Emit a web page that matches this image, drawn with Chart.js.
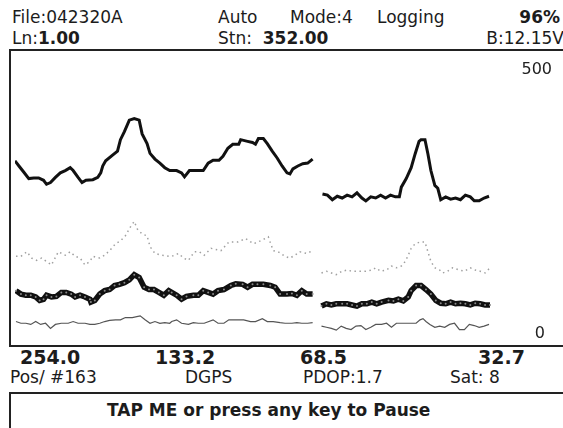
<!DOCTYPE html>
<html>
<head>
<meta charset="utf-8">
<script src="https://cdn.jsdelivr.net/npm/chart.js@4/dist/chart.umd.min.js"></script>
<style>
    body {
        margin: 0;
        width: 563px;
        height: 428px;
        overflow: hidden;
        position: relative;
        background: #fff;
        color: #1c1c1c;
        font-family: "DejaVu Sans", sans-serif;
    }
    .t { position: absolute; white-space: nowrap; font-size: 17px; line-height: 1; }
    .b { font-weight: bold; }
    .big { font-size: 19px; font-weight: bold; }
    #frame {
        position: absolute; left: 9px; top: 49px; width: 570px; height: 298px;
        box-sizing: border-box; border: 2px solid #222; border-right: none;
    }
    #plot { position: absolute; left: 11px; top: 51px; width: 552px; height: 294px; }
    #pause {
        position: absolute; left: 9px; top: 392px; width: 570px; height: 60px;
        box-sizing: border-box; border: 2px solid #222; border-right: none;
    }
</style>
</head>
<body>
<!-- status header -->
<div class="t" style="left:12px; top:9px;">File:042320A</div>
<div class="t" style="left:218px; top:9px;">Auto</div>
<div class="t" style="left:290px; top:9px;">Mode:4</div>
<div class="t" style="left:377px; top:9px;">Logging</div>
<div class="t b" style="right:3px; top:9px;">96%</div>
<div class="t" style="left:12px; top:30px;">Ln:<span class="b">1.00</span></div>
<div class="t" style="left:218px; top:30px;">Stn: &nbsp;<span class="b">352.00</span></div>
<div class="t" style="right:-1px; top:30px;">B:12.15V</div>

<div id="frame"></div>
<div id="plot"><canvas id="traceChart"></canvas></div>

<!-- readings below the plot -->
<div class="t big" style="left:20px; top:348px;">254.0</div>
<div class="t big" style="left:155px; top:348px;">133.2</div>
<div class="t big" style="left:300px; top:348px;">68.5</div>
<div class="t big" style="left:478px; top:348px;">32.7</div>
<div class="t" style="left:10px; top:369px;">Pos/ #163</div>
<div class="t" style="left:185px; top:369px;">DGPS</div>
<div class="t" style="left:303px; top:369px;">PDOP:1.7</div>
<div class="t" style="left:450px; top:369px;">Sat: 8</div>

<div id="pause"></div>
<div class="t b" style="left:107px; top:402px;">TAP ME or press any key to Pause</div>

<script>
// [sample, reading] pairs; null marks the break between the two runs
const channel1 = [
    [1,315],[5,306],[10,295],[15,284],[20,285],[25,285],[30,281],[33,274],[37,277],[42,286],
    [47,294],[52,298],[57,303],[60,298],[65,286],[69,277],[73,281],[80,282],[85,286],[88,294],
    [90,306],[93,315],[100,325],[105,332],[108,352],[112,366],[117,386],[122,389],[127,386],[130,362],
    [135,345],[138,328],[143,318],[148,311],[153,303],[158,298],[165,298],[170,294],[173,287],[178,298],
    [183,298],[192,298],[197,311],[202,316],[208,316],[212,323],[217,337],[222,344],[228,344],[230,352],
    [237,349],[242,347],[245,344],[248,354],[253,354],[257,345],[262,332],[267,320],[272,306],[277,294],
    [280,292],[283,301],[288,306],[293,310],[298,311],[303,318],
    [308,null],
    [313,257],[318,255],[323,247],[328,253],[333,250],[338,255],[343,252],[348,259],[353,250],[357,245],
    [362,252],[367,250],[372,255],[377,250],[382,255],[387,252],[391,252],[393,269],[398,284],[403,303],
    [407,327],[411,349],[413,352],[417,352],[420,327],[423,298],[427,272],[430,267],[433,247],[438,252],
    [443,248],[448,250],[453,247],[458,255],[463,252],[467,245],[472,245],[477,250],[482,253]
];

const channel2 = [
    [2,148],[7,148],[13,156],[18,145],[23,141],[28,145],[33,139],[38,133],[45,156],[52,150],
    [57,156],[62,148],[67,145],[72,133],[77,139],[80,148],[87,145],[92,150],[97,158],[103,170],
    [108,175],[113,184],[118,199],[122,209],[125,196],[130,187],[135,184],[138,165],[143,153],[150,150],
    [157,148],[160,148],[167,153],[172,145],[177,141],[183,156],[188,156],[193,150],[200,162],[210,158],
    [218,173],[227,173],[235,179],[243,170],[250,175],[258,182],[263,158],[268,156],[275,148],[280,145],
    [285,150],[290,156],[297,153],[303,158],
    [308,null],
    [312,119],[317,122],[322,119],[327,116],[333,122],[338,124],[343,122],[350,122],[357,122],[363,124],
    [367,128],[372,122],[378,124],[383,131],[388,128],[393,131],[397,139],[400,150],[403,162],[407,170],
    [412,173],[417,173],[420,156],[423,139],[427,128],[432,124],[435,119],[440,122],[445,128],[452,124],
    [457,122],[463,128],[468,124],[473,122],[478,119],[483,128]
];

const channel3 = [
    [2,88],[7,82],[12,80],[17,80],[22,77],[26,71],[30,73],[33,80],[38,77],[43,78],
    [48,85],[53,85],[58,82],[62,77],[67,80],[72,77],[77,73],[78,68],[82,71],[87,82],
    [92,88],[97,90],[102,97],[107,99],[112,102],[117,107],[122,116],[127,111],[132,94],[137,90],
    [142,90],[147,85],[152,80],[157,88],[160,85],[165,80],[170,73],[175,78],[182,80],[187,80],
    [192,88],[197,85],[202,82],[207,88],[213,90],[220,97],[225,100],[232,99],[237,94],[242,99],
    [247,99],[253,99],[260,97],[265,94],[270,82],[277,82],[282,83],[287,80],[292,88],[297,82],[303,82],
    [308,null],
    [312,61],[317,65],[322,63],[327,65],[333,65],[338,65],[343,63],[348,61],[353,65],[358,65],
    [363,68],[368,65],[373,68],[380,71],[385,70],[390,73],[395,70],[400,77],[403,88],[408,97],
    [413,97],[418,90],[423,82],[428,71],[433,66],[438,65],[443,68],[448,65],[453,66],[458,65],
    [463,63],[468,66],[473,65],[478,63],[483,63]
];

const channel4 = [
    [2,34],[7,31],[12,31],[17,29],[22,34],[27,29],[32,31],[37,22],[42,29],[48,31],
    [55,31],[60,34],[65,31],[72,31],[77,29],[82,29],[87,31],[92,34],[97,36],[103,37],
    [108,37],[113,41],[120,41],[128,44],[133,37],[138,31],[143,34],[148,31],[153,32],[158,31],
    [160,34],[165,37],[170,31],[177,29],[182,32],[187,31],[193,31],[202,37],[207,31],[213,31],
    [218,37],[225,37],[233,37],[240,34],[245,34],[252,39],[257,34],[263,34],[270,32],[275,31],
    [282,31],[287,32],[292,31],[298,31],[303,32],
    [308,null],
    [312,26],[317,24],[322,22],[327,19],[332,26],[337,22],[342,20],[347,26],[352,27],[357,20],
    [362,24],[367,29],[373,29],[378,31],[383,24],[388,31],[395,31],[402,31],[408,31],[412,37],
    [415,39],[418,34],[422,29],[427,24],[432,26],[437,24],[442,29],[447,31],[452,20],[457,20],
    [462,29],[467,27],[472,24],[477,26],[482,29]
];

const yTicks = [0, 500];

function toPoints(pairs) {
    return pairs.map(p => ({ x: p[0], y: p[1] }));
}

// scale labels sit inside the top-right and bottom-right corners
const cornerLabels = {
    id: 'cornerLabels',
    afterDraw(chart) {
        const { ctx, chartArea, scales } = chart;
        const y = scales.y;
        ctx.save();
        ctx.font = '16px "DejaVu Sans"';
        ctx.fillStyle = '#222';
        ctx.textAlign = 'right';
        yTicks.forEach(v => {
            const py = y.getPixelForValue(v);
            if (v === y.max) {
                ctx.textBaseline = 'top';
                ctx.fillText(String(v), chartArea.right - 7, py + 7);
            } else {
                ctx.textBaseline = 'alphabetic';
                ctx.fillText(String(v), chartArea.right - 14, py - 3);
            }
        });
        ctx.restore();
    }
};

const ctx = document.getElementById('traceChart').getContext('2d');
new Chart(ctx, {
    type: 'line',
    data: {
        datasets: [{
            label: 'Ch 1',
            data: toPoints(channel1),
            borderColor: '#111',
            borderWidth: 3,
            pointRadius: 0
        }, {
            label: 'Ch 2',
            data: toPoints(channel2),
            borderColor: '#a0a0a0',
            borderWidth: 1.5,
            borderDash: [1.5, 3.5],
            pointRadius: 0
        }, {
            label: 'Ch 3',
            data: toPoints(channel3),
            borderColor: '#111',
            borderWidth: 5.5,
            pointRadius: 1,
            pointBorderWidth: 0,
            pointBackgroundColor: '#8a8a8a'
        }, {
            label: 'Ch 4',
            data: toPoints(channel4),
            borderColor: '#555',
            borderWidth: 1.2,
            pointRadius: 0
        }]
    },
    options: {
        responsive: true,
        maintainAspectRatio: false,
        animation: false,
        spanGaps: false,
        layout: { padding: 0 },
        plugins: {
            legend: { display: false },
            tooltip: { enabled: false }
        },
        scales: {
            x: { type: 'linear', min: 1, max: 553, display: false },
            y: { min: 0, max: 500, display: false }
        }
    },
    plugins: [cornerLabels]
});
</script>
</body>
</html>
